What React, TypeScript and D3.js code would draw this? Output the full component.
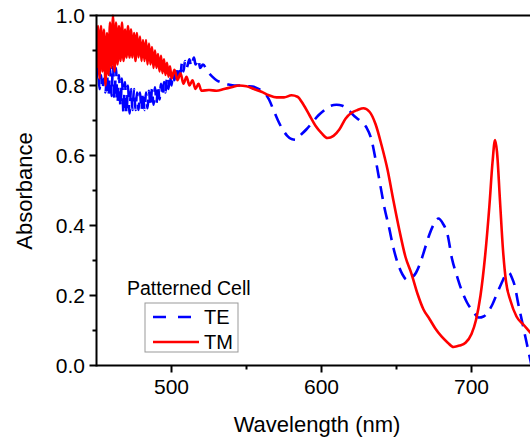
import React from "react";
import * as d3 from "d3";

const teWavelength = [450,451,452,453,454,455,456,457,458,459,460,461,462,463,464,465,466,467,468,469,470,471,472,473,474,475,476,477,478,479,480,481,482,483,484,485,486,487,488,489,490,491,492,493,494,495,496,497,498,499,500,501,502,503,504,505,506,507,508,509,510,512,513,515,516,518,519,521,524,527,530,534,538,542,546,550,554,558,562,565,568,571,574,577,580,583,586,590,594,598,602,606,610,614,618,622,626,630,633,636,639,642,645,648,651,654,657,660,663,666,669,672,675,678,681,684,687,690,693,697,701,705,708,711,714,717,720,723,725,727,729,731,733,735,737,739,741];
const teAbsorbance = [0.82,0.85,0.79,0.83,0.79,0.82,0.78,0.83,0.77,0.85,0.77,0.86,0.76,0.85,0.75,0.83,0.74,0.82,0.72,0.81,0.72,0.80,0.72,0.79,0.73,0.79,0.73,0.78,0.73,0.78,0.73,0.78,0.73,0.78,0.735,0.785,0.74,0.79,0.745,0.795,0.75,0.80,0.76,0.805,0.77,0.81,0.78,0.82,0.79,0.83,0.80,0.835,0.815,0.85,0.825,0.855,0.835,0.865,0.84,0.87,0.85,0.875,0.855,0.88,0.86,0.875,0.85,0.86,0.84,0.826,0.815,0.808,0.803,0.80,0.80,0.798,0.797,0.79,0.78,0.76,0.73,0.70,0.675,0.657,0.647,0.645,0.658,0.675,0.695,0.715,0.73,0.742,0.745,0.742,0.73,0.712,0.698,0.68,0.65,0.59,0.52,0.45,0.395,0.335,0.29,0.26,0.245,0.25,0.265,0.295,0.335,0.375,0.405,0.42,0.405,0.375,0.305,0.26,0.22,0.18,0.155,0.137,0.14,0.153,0.175,0.205,0.235,0.26,0.265,0.25,0.225,0.18,0.14,0.10,0.06,0.02,-0.02];

const tmWavelength = [450,451,452,453,454,455,456,457,458,459,460,461,462,463,464,465,466,467,468,469,470,471,472,473,474,475,476,477,478,479,480,481,482,483,484,485,486,487,488,489,490,491,492,493,494,495,496,497,498,499,500,502,504,506,508,510,512,514,516,518,520,525,530,535,540,545,550,555,560,565,570,575,580,584,588,592,596,600,604,608,612,616,620,624,628,632,636,640,644,648,652,656,660,664,668,672,676,680,684,688,692,696,700,703,706,709,712,714,715.7,717,719,721,723,726,730,735,740];
const tmAbsorbance = [0.85,0.97,0.82,0.97,0.84,0.96,0.80,0.95,0.83,0.98,0.85,1.0,0.84,0.98,0.86,0.97,0.87,0.98,0.87,0.96,0.88,0.97,0.88,0.96,0.88,0.95,0.87,0.95,0.88,0.94,0.87,0.93,0.87,0.93,0.86,0.92,0.86,0.91,0.85,0.90,0.85,0.89,0.84,0.885,0.835,0.875,0.83,0.865,0.825,0.855,0.82,0.845,0.815,0.835,0.805,0.825,0.80,0.815,0.79,0.805,0.785,0.787,0.785,0.79,0.795,0.80,0.798,0.79,0.782,0.772,0.766,0.766,0.772,0.768,0.745,0.715,0.685,0.664,0.65,0.656,0.675,0.705,0.722,0.73,0.735,0.725,0.69,0.63,0.56,0.47,0.385,0.31,0.262,0.205,0.16,0.133,0.105,0.083,0.066,0.053,0.057,0.065,0.09,0.13,0.20,0.31,0.46,0.58,0.644,0.61,0.47,0.33,0.24,0.185,0.14,0.115,0.09];

const yMajorTicks = [0, 0.2, 0.4, 0.6, 0.8, 1.0];
const yMinorTicks = [0.1, 0.3, 0.5, 0.7, 0.9];
const xMajorTicks = [500, 600, 700];
const xMinorTicks = [550, 650];

const FONT = "'Liberation Sans', Arial, sans-serif";

export default function App() {
  const W = 530, H = 438;
  const left = 96.5, top = 15.5, bottom = 365.5;
  const x = d3.scaleLinear().domain([450, 740]).range([left, left + 290 * 1.5]);
  const y = d3.scaleLinear().domain([0, 1]).range([bottom, top]);

  const te = teWavelength.map((w, i) => [w, teAbsorbance[i]] as [number, number]);
  const tm = tmWavelength.map((w, i) => [w, tmAbsorbance[i]] as [number, number]);
  const lineGen = d3.line<[number, number]>().x(d => x(d[0])).y(d => y(d[1])).curve(d3.curveMonotoneX);

  return (
    <svg width={W} height={H} style={{ position: "absolute", left: 0, top: 0, background: "#fff" }} fontFamily={FONT}>
      <defs>
        <clipPath id="plotClip">
          <rect x={left} y={top - 3} width={W - left} height={bottom - top + 3} />
        </clipPath>
      </defs>
      <g clipPath="url(#plotClip)">
        <path d={lineGen(te) || ""} fill="none" stroke="#0000ff" strokeWidth={2.6} strokeDasharray="13,8" strokeLinejoin="round" />
        <path d={lineGen(tm) || ""} fill="none" stroke="#ff0000" strokeWidth={2.6} strokeLinejoin="round" />
      </g>
      <line x1={left} x2={W} y1={top} y2={top} stroke="#000" strokeWidth={2} />
      <line x1={left} x2={W} y1={bottom} y2={bottom} stroke="#000" strokeWidth={2} />
      <line x1={left} x2={left} y1={top - 1} y2={bottom + 1} stroke="#000" strokeWidth={2} />
      {yMajorTicks.map(t => (
        <g key={"ym" + t}>
          <line x1={left - 7} x2={left} y1={y(t)} y2={y(t)} stroke="#000" strokeWidth={2} />
          <text x={85} y={y(t)} dy="0.36em" textAnchor="end" fontSize={21}>{t.toFixed(1)}</text>
        </g>
      ))}
      {yMinorTicks.map(t => (
        <line key={"yn" + t} x1={left - 4} x2={left} y1={y(t)} y2={y(t)} stroke="#000" strokeWidth={2} />
      ))}
      {xMajorTicks.map(t => (
        <g key={"xm" + t}>
          <line x1={x(t)} x2={x(t)} y1={bottom} y2={bottom + 7} stroke="#000" strokeWidth={2} />
          <text x={x(t)} y={394} textAnchor="middle" fontSize={21}>{t}</text>
        </g>
      ))}
      {xMinorTicks.map(t => (
        <line key={"xn" + t} x1={x(t)} x2={x(t)} y1={bottom} y2={bottom + 4} stroke="#000" strokeWidth={2} />
      ))}
      <text x={317} y={432} textAnchor="middle" fontSize={22}>Wavelength (nm)</text>
      <text transform="translate(32,191) rotate(-90)" textAnchor="middle" fontSize={22}>Absorbance</text>
      <text x={127} y={295} fontSize={19.5}>Patterned Cell</text>
      <rect x={145} y={303} width={93} height={49} fill="#fff" stroke="#999" strokeWidth={1} />
      <line x1={153} x2={199} y1={317} y2={317} stroke="#0000ff" strokeWidth={2.6} strokeDasharray="13,12" />
      <text x={204} y={324} fontSize={20}>TE</text>
      <line x1={153} x2={199} y1={342} y2={342} stroke="#ff0000" strokeWidth={2.6} />
      <text x={204} y={349} fontSize={20}>TM</text>
    </svg>
  );
}
